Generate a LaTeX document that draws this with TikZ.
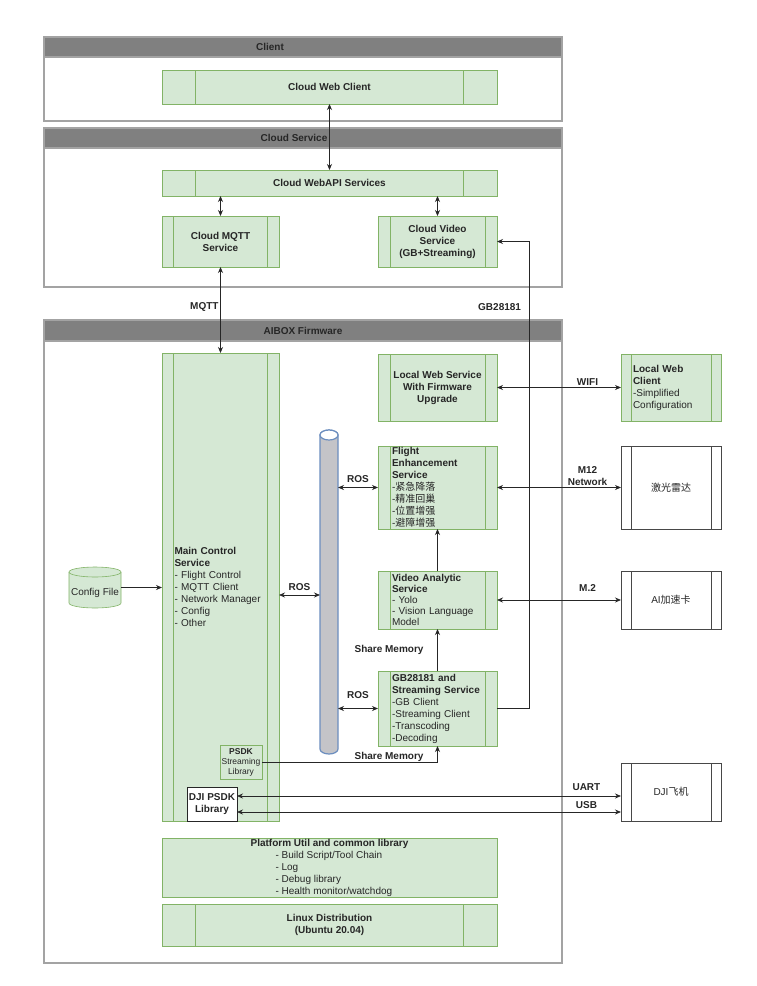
\documentclass[tikz,border=0pt]{standalone}
\usepackage{fontspec}
\setmainfont{Liberation Sans}
\newfontfamily\cjk{Noto Sans CJK SC}
\usetikzlibrary{calc,arrows.meta}

\definecolor{gfill}{HTML}{D5E8D4}
\definecolor{gline}{HTML}{82B366}
\definecolor{hdrgray}{HTML}{808080}
\definecolor{boxgray}{HTML}{A3A3A3}
\definecolor{pipefill}{HTML}{C4C4C8}
\definecolor{pipeline}{HTML}{6C8EBF}
\definecolor{ink}{HTML}{262626}

\begin{document}
\begin{tikzpicture}[%
x=1pt, y=-1pt,
>={Stealth[length=6pt,width=5pt]},
every node/.style={font=\fontsize{10}{12}\selectfont, text=ink, inner sep=0pt, outer sep=0pt},
sz/.style 2 args={minimum width=#1pt, minimum height=#2pt},
boldtxt/.style={font=\fontsize{10}{12}\selectfont\bfseries},
cont/.style={draw=boxgray, fill=white, line width=1.5pt},
hdr/.style={draw=boxgray, fill=hdrgray, line width=1.5pt},
gbox/.style={draw=gline, fill=gfill, line width=0.6pt},
innerlines/.style={path picture={
  \draw[#1, line width=0.6pt]
    ($(path picture bounding box.north west)!0.1!(path picture bounding box.north east)$) --
    ($(path picture bounding box.south west)!0.1!(path picture bounding box.south east)$)
    ($(path picture bounding box.north west)!0.9!(path picture bounding box.north east)$) --
    ($(path picture bounding box.south west)!0.9!(path picture bounding box.south east)$);
}},
gproc/.style={gbox, innerlines=gline},
wproc/.style={draw=ink!85, fill=white, line width=0.8pt, innerlines=ink!85},
lbl/.style={font=\fontsize{10}{12}\selectfont\bfseries, inner sep=1pt},
link/.style={draw=ink, line width=0.8pt},
]
\useasboundingbox (0,0) rectangle (756,986);
%% client group;
\node[cont, sz={518}{84}] (client) at (303,79) {};
\node[hdr, sz={518}{20}, anchor=north] (clienthdr) at (client.north) {};
\node[boldtxt] (clienttitle) at (270,47) {Client};
%% cloud group;
\node[cont, sz={518}{159}] (cloud) at (303,207.5) {};
\node[hdr, sz={518}{20}, anchor=north] (cloudhdr) at (cloud.north) {};
\node[boldtxt] (cloudtitle) at (294,138) {Cloud Service};
%% aibox group;
\node[cont, sz={518}{643}] (aibox) at (303,641.5) {};
\node[hdr, sz={518}{21}, anchor=north] (aiboxhdr) at (aibox.north) {};
\node[boldtxt] (aiboxtitle) at (303,330.5) {AIBOX Firmware};
%% cloud boxes;
\node[gproc, sz={335}{34}, boldtxt] (webclient) at (329.5,87) {Cloud Web Client};
\node[gproc, sz={335}{26}, boldtxt] (webapi) at (329.5,183) {Cloud WebAPI Services};
\node[gproc, sz={117}{51}, boldtxt, align=center] (mqtt) at (220.5,241.5) {Cloud MQTT\\Service};
\node[gproc, sz={119}{51}, boldtxt, align=center] (video) at (437.5,241.5) {Cloud Video\\Service\\(GB+Streaming)};
%% main control;
\node[gproc, sz={117}{468}, text width=92pt, align=left] (main) at (220.5,587)
  {\textbf{Main Control}\\\textbf{Service}\\- Flight Control\\- MQTT Client\\- Network Manager\\- Config\\- Other};
\node[gbox, sz={42}{34}, align=center, font=\fontsize{8.5}{10}\selectfont] (psdkstr) at (241,762) {\textbf{PSDK}\\Streaming\\Library};
\node[draw=ink, fill=white, line width=0.8pt, sz={50}{34}, boldtxt, align=center] (djipsdk) at (212,804) {DJI PSDK\\Library};
%% config file;
\node[sz={52}{41}] (cfg) at (95,587.5) {};
\path[gbox] ($(cfg.north west)+(0,5)$) -- ($(cfg.south west)+(0,-5)$)
  arc[start angle=180, end angle=360, x radius=26pt, y radius=5pt]
  -- ($(cfg.north east)+(0,5)$)
  arc[start angle=0, end angle=180, x radius=26pt, y radius=5pt] -- cycle;
\draw[gline, line width=0.6pt] ($(cfg.north west)+(0,5)$) arc[start angle=180, end angle=360, x radius=26pt, y radius=5pt];
\node (cfgtext) at ([yshift=-5pt]cfg.center) {Config File};
%% ros bus;
\node[sz={18}{324}] (bus) at (329,592) {};
\path[fill=pipefill, draw=pipeline, line width=1.2pt] ($(bus.north west)+(0,5)$) -- ($(bus.south west)+(0,-5)$)
  arc[start angle=180, end angle=360, x radius=9pt, y radius=5pt]
  -- ($(bus.north east)+(0,5)$)
  arc[start angle=0, end angle=180, x radius=9pt, y radius=5pt] -- cycle;
\draw[fill=white, draw=pipeline, line width=1.2pt] ($(bus.north)+(0,5)$) ellipse [x radius=9pt, y radius=5pt];
%% services;
\node[gproc, sz={119}{67}, boldtxt, align=center] (localweb) at (437.5,387.5) {Local Web Service\\With Firmware\\Upgrade};
\node[gproc, sz={119}{83}, text width=91pt, align=left] (flight) at (437.5,487.5)
  {\textbf{Flight}\\\textbf{Enhancement}\\\textbf{Service}\\-{\cjk 紧急降落}\\-{\cjk 精准回巢}\\-{\cjk 位置增强}\\-{\cjk 避障增强}};
\node[gproc, sz={119}{58}, text width=91pt, align=left, font=\fontsize{10}{11}\selectfont] (vidana) at (437.5,600)
  {\textbf{Video Analytic}\\\textbf{Service}\\- Yolo\\- Vision Language\\Model};
\node[gproc, sz={119}{75}, text width=91pt, align=left] (gbsvc) at (437.5,708.5)
  {\textbf{GB28181 and}\\\textbf{Streaming Service}\\-GB Client\\-Streaming Client\\-Transcoding\\-Decoding};
%% base layers;
\node[gbox, sz={335}{59}, align=center] (platform) at (329.5,867.5)
  {\textbf{Platform Util and common library}\\\makebox[108pt][l]{- Build Script/Tool Chain}\\\makebox[108pt][l]{- Log}\\\makebox[108pt][l]{- Debug library}\\\makebox[108pt][l]{- Health monitor/watchdog}};
\node[gproc, sz={335}{42}, boldtxt, align=center] (linux) at (329.5,925) {Linux Distribution\\(Ubuntu 20.04)};
%% devices;
\node[gproc, sz={100}{67}, text width=76pt, align=left] (localclient) at (671,387.5)
  {\textbf{Local Web}\\\textbf{Client}\\-Simplified\\Configuration};
\node[wproc, sz={100}{83}] (laser) at (671,487.5) {\cjk 激光雷达};
\node[wproc, sz={100}{58}] (aicard) at (671,600) {AI{\cjk 加速卡}};
\node[wproc, sz={100}{58}] (djiplane) at (671,792) {DJI{\cjk 飞机}};
%% links;
\coordinate (rosmain) at (300,595);
\coordinate (gbrise) at (529,0);
\coordinate (uartline) at (0,796);
\coordinate (usbline) at (0,812);
\draw[link, <->] (webclient.south) -- (webapi.north);
\draw[link, <->] (mqtt.north) -- (mqtt.north |- webapi.south);
\draw[link, <->] (video.north) -- (video.north |- webapi.south);
\draw[link, <->] (mqtt.south) -- (main.north) node[lbl, left=1pt, pos=0.47] (mqttlbl) {MQTT};
\draw[link, ->] (gbsvc.east) -- (gbsvc.east -| gbrise) -- (video.east -| gbrise)
  node[lbl, left=7pt, pos=0.86] (gblbl) {GB28181} -- (video.east);
\draw[link, ->] (cfg.east) -- (main.west |- cfg.east);
\draw[link, <->] (main.east |- rosmain) -- (bus.west |- rosmain) node[lbl, above=3pt, midway] (roslbla) {ROS};
\draw[link, <->] (bus.east |- flight.west) -- (flight.west) node[lbl, above=4pt, midway] (roslblb) {ROS};
\draw[link, <->] (bus.east |- gbsvc.west) -- (gbsvc.west) node[lbl, above=9pt, midway] (roslblc) {ROS};
\draw[link, ->] (vidana.north) -- (flight.south);
\draw[link, ->] (gbsvc.north) -- (vidana.south) node[lbl, left=13pt, midway] (shmlbla) {Share Memory};
\draw[link, ->] (psdkstr.east) -- (psdkstr.east -| gbsvc.south) coordinate (psdkcorner) -- (gbsvc.south);
\node[lbl, anchor=south east, inner sep=0pt] (shmlblb) at ([xshift=-14pt]psdkcorner) {Share Memory};
\draw[link, <->] (localweb.east) -- (localclient.west) node[lbl, above=1pt, pos=0.73] (wifilbl) {WIFI};
\draw[link, <->] (flight.east) -- (laser.west) node[lbl, above=1pt, pos=0.73, align=center] (m12lbl) {M12\\Network};
\draw[link, <->] (vidana.east) -- (aicard.west) node[lbl, above=8pt, pos=0.73] (m2lbl) {M.2};
\draw[link, <->] (djipsdk.east |- uartline) -- (djiplane.west |- uartline) node[lbl, above=4pt, pos=0.91] (uartlbl) {UART};
\draw[link, <->] (djipsdk.east |- usbline) -- (djiplane.west |- usbline) node[lbl, above=2pt, pos=0.91] (usblbl) {USB};
\end{tikzpicture}
\end{document}
